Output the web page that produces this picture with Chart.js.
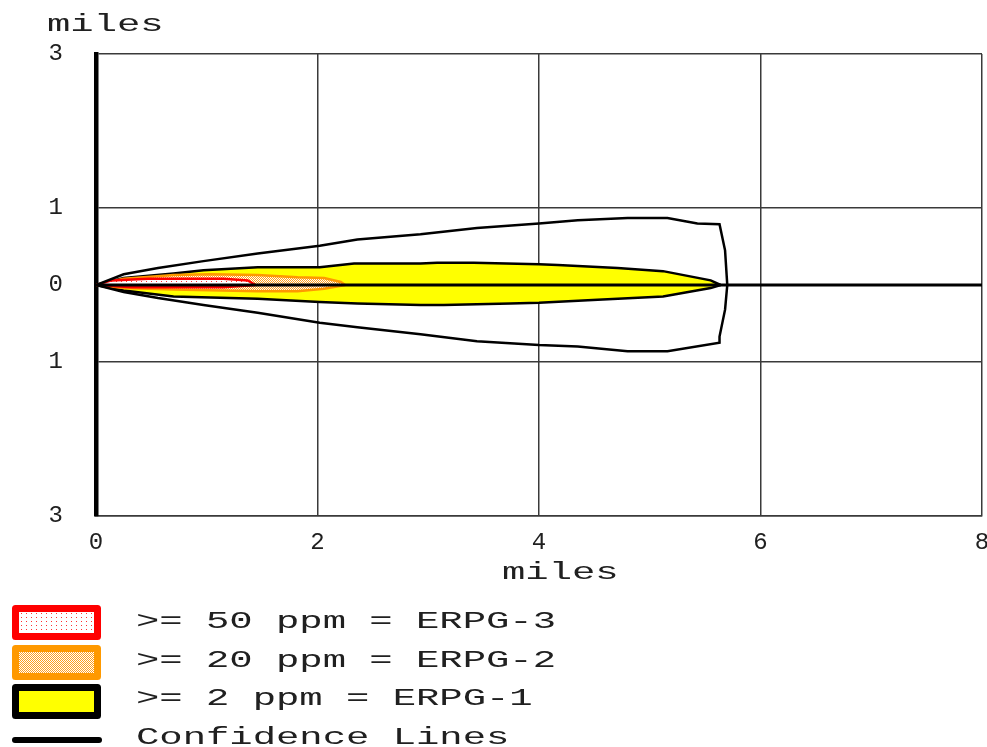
<!DOCTYPE html>
<html>
  <head>
    <title>Threat Zone</title>
    <script src="https://cdn.jsdelivr.net/npm/chart.js@4.4.0/dist/chart.umd.min.js"></script>
    <style>
      body { margin: 0; background: #fff; }
    </style>
  </head>
  <body>
    <canvas id="myChart" width="987" height="747"></canvas>
    <script>
      // axis ticks, miles
      var xTicks = [0, 2, 4, 6, 8];
      var yTicks = [-3, -1, 0, 1, 3];

      // zone edges as [downwind, crosswind] in miles
      var erpg3Upper = [[0, 0], [0.14, 0.06], [0.47, 0.08], [1.15, 0.08], [1.37, 0.06], [1.44, 0]];
      var erpg3Lower = [[0, 0], [0.32, -0.03], [1.15, -0.03], [1.44, 0]];

      var erpg2Upper = [[0, 0], [0.25, 0.08], [0.7, 0.13], [1.04, 0.14], [1.46, 0.13], [1.82, 0.1], [2.06, 0.09], [2.21, 0.04], [2.25, 0]];
      var erpg2Lower = [[0, 0], [0.25, -0.04], [0.7, -0.06], [1.46, -0.08], [1.82, -0.08], [2.06, -0.05], [2.25, 0]];

      var erpg1Upper = [[0, 0], [0.25, 0.09], [0.7, 0.15], [0.97, 0.19], [1.46, 0.23], [2.02, 0.23], [2.33, 0.28], [2.93, 0.28],
        [3.08, 0.29], [3.41, 0.29], [4.0, 0.27], [4.17, 0.26], [4.71, 0.22], [5.12, 0.18], [5.55, 0.06], [5.64, 0]];
      var erpg1Lower = [[0, 0], [0.25, -0.07], [0.7, -0.15], [1.46, -0.18], [1.76, -0.2], [2.02, -0.22], [2.36, -0.24], [2.93, -0.26],
        [3.14, -0.26], [3.74, -0.24], [4.0, -0.23], [4.53, -0.19], [5.12, -0.15], [5.55, -0.04], [5.64, 0]];

      // confidence lines: upper edge, end arc, lower edge back to source
      var confUpper = [[0, 0], [0.25, 0.14], [0.56, 0.22], [0.97, 0.31], [1.46, 0.41], [2.02, 0.51], [2.36, 0.59], [2.93, 0.66],
        [3.44, 0.74], [4.0, 0.8], [4.35, 0.84], [4.8, 0.87], [5.16, 0.87], [5.43, 0.8], [5.63, 0.79]];
      var confArc = [[5.68, 0.45], [5.7, 0], [5.68, -0.32], [5.63, -0.67]];
      var confLower = [[5.63, -0.75], [5.16, -0.86], [4.8, -0.86], [4.35, -0.8], [4.0, -0.78], [3.44, -0.73], [2.93, -0.64],
        [2.36, -0.55], [2.02, -0.49], [1.46, -0.36], [0.97, -0.26], [0.56, -0.17], [0.25, -0.09], [0, 0]];

      // plume centre line
      var centerLine = [[0, 0], [8, 0]];

      var legendLabels = [">= 50 ppm = ERPG-3", ">= 20 ppm = ERPG-2", ">= 2 ppm = ERPG-1", "Confidence Lines"];
      var axisTitle = "miles";

      function pts(arr) {
        return arr.map(function (p) { return { x: p[0], y: p[1] }; });
      }

      // small dotted fills like the original plot
      function makePattern(w, h, bg, dots, dotColor) {
        var c = document.createElement("canvas");
        c.width = w;
        c.height = h;
        var g = c.getContext("2d");
        g.fillStyle = bg;
        g.fillRect(0, 0, w, h);
        g.fillStyle = dotColor;
        dots.forEach(function (d) { g.fillRect(d[0], d[1], 1, 1); });
        return g.createPattern(c, "repeat");
      }

      var ctx = document.getElementById("myChart").getContext("2d");
      var redDots = makePattern(5, 4, "#ffffff", [[1, 1]], "#ff3030");
      var orangeDots = makePattern(2, 2, "#ffffff", [[0, 0], [1, 1]], "#ffa020");

      var FONT = "'Liberation Mono', 'Courier New', monospace";
      var STRETCH = 1.62;

      function wideText(c, text, x, y) {
        c.save();
        c.translate(x, y);
        c.scale(STRETCH, 1);
        c.fillText(text, 0, 0);
        c.restore();
      }

      // titles and legend drawn with wide monospace text
      var threatText = {
        id: "threatText",
        afterDraw: function (chart) {
          var c = chart.ctx;
          c.save();
          c.font = "24px " + FONT;
          c.fillStyle = "#202020";
          c.textBaseline = "alphabetic";
          c.textAlign = "left";
          wideText(c, axisTitle, 47, 31);
          wideText(c, axisTitle, 502, 579);

          var rows = [620, 659, 697, 736];
          legendLabels.forEach(function (t, i) {
            wideText(c, t, 136, rows[i] + 8);
          });

          c.lineJoin = "round";
          c.lineWidth = 7;
          c.fillStyle = redDots;
          c.strokeStyle = "#ff0000";
          c.beginPath(); c.rect(15.5, 608.5, 82, 28); c.fill(); c.stroke();

          c.fillStyle = orangeDots;
          c.strokeStyle = "#ff9900";
          c.beginPath(); c.rect(15.5, 648.5, 82, 28); c.fill(); c.stroke();

          c.fillStyle = "#ffff00";
          c.strokeStyle = "#000000";
          c.beginPath(); c.rect(15.5, 687.5, 82, 28); c.fill(); c.stroke();

          c.lineCap = "round";
          c.lineWidth = 6;
          c.beginPath(); c.moveTo(15, 740); c.lineTo(99, 740); c.stroke();
          c.restore();
        },
      };

      function zone(data, stroke, fill) {
        return {
          data: pts(data),
          borderColor: stroke,
          borderWidth: 2.5,
          backgroundColor: fill,
          fill: "origin",
          pointRadius: 0,
          tension: 0,
        };
      }

      var chart = new Chart(ctx, {
        type: "line",
        data: {
          datasets: [
            { data: pts(centerLine), borderColor: "#000", borderWidth: 3, pointRadius: 0, fill: false },
            { data: pts(confUpper.concat(confArc, confLower)), borderColor: "#000", borderWidth: 2.5, pointRadius: 0, fill: false, tension: 0 },
            zone(erpg3Upper, "#ff0000", redDots),
            zone(erpg3Lower, "#ff0000", redDots),
            zone(erpg2Upper, "#ff9900", orangeDots),
            zone(erpg2Lower, "#ff9900", orangeDots),
            zone(erpg1Upper, "#000000", "#ffff00"),
            zone(erpg1Lower, "#000000", "#ffff00"),
          ],
        },
        options: {
          responsive: false,
          animation: false,
          layout: { padding: { left: 48, top: 54, right: 5, bottom: 191 } },
          plugins: {
            legend: { display: false },
            tooltip: { enabled: false },
          },
          scales: {
            x: {
              type: "linear",
              min: 0,
              max: 8,
              afterBuildTicks: function (s) { s.ticks = xTicks.map(function (v) { return { value: v }; }); },
              afterFit: function (s) { s.height = 40; s.paddingLeft = 0; s.paddingRight = 0; },
              grid: { color: "#3a3a3a", lineWidth: 1.5, drawTicks: false },
              border: { color: "#3a3a3a", width: 1.5 },
              ticks: { color: "#202020", padding: 12, maxRotation: 0, font: { family: FONT, size: 24 } },
            },
            y: {
              min: -3,
              max: 3,
              afterBuildTicks: function (s) { s.ticks = yTicks.map(function (v) { return { value: v }; }); },
              afterFit: function (s) { s.width = 48; s.paddingTop = 0; s.paddingBottom = 0; },
              grid: { color: "#3a3a3a", lineWidth: 1.5, drawTicks: false },
              border: { color: "#000", width: 4.5 },
              ticks: {
                color: "#202020",
                padding: 33,
                font: { family: FONT, size: 24 },
                callback: function (v) { return Math.abs(v); },
              },
            },
          },
        },
        plugins: [threatText],
      });
    </script>
  </body>
</html>
